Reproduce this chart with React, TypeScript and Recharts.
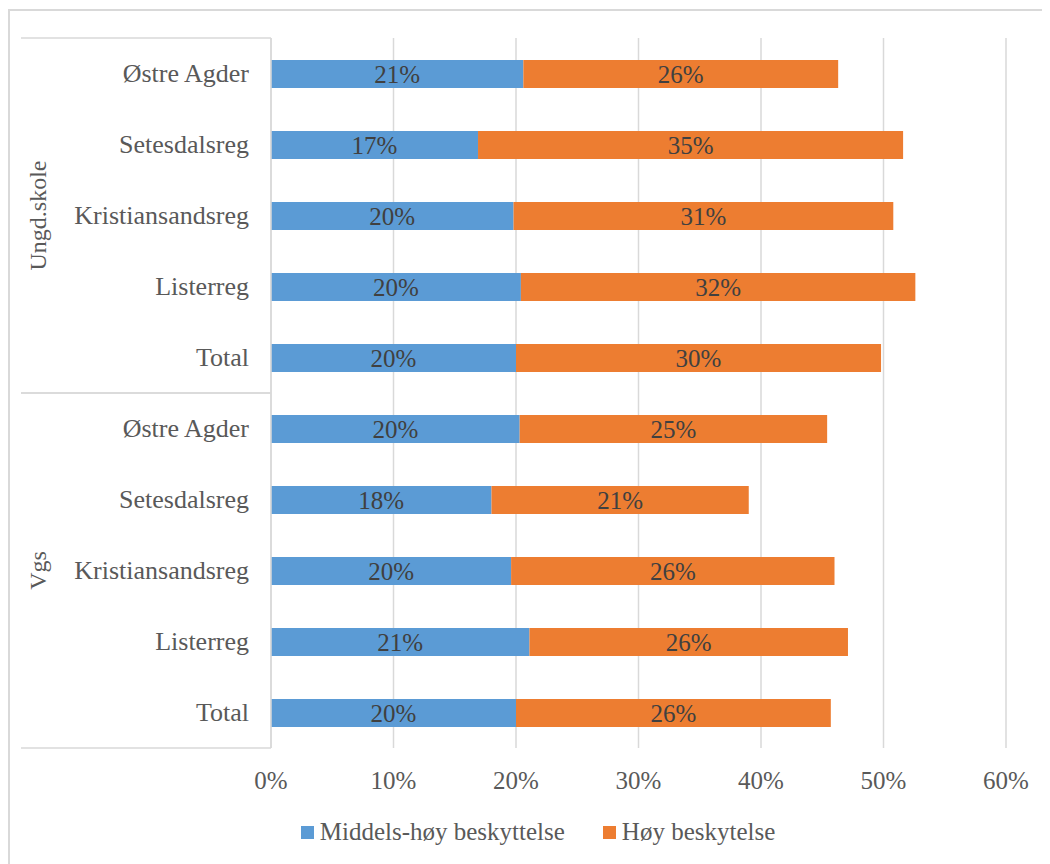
import React from 'react';
import { BarChart, Bar, XAxis, YAxis, CartesianGrid, LabelList, Legend } from 'recharts';

const groups = ['Ungd.skole', 'Vgs'];
const regions = ['Østre Agder', 'Setesdalsreg', 'Kristiansandsreg', 'Listerreg', 'Total'];
const ungdMiddels = [0.206, 0.169, 0.198, 0.204, 0.200];
const ungdHoy = [0.257, 0.347, 0.310, 0.322, 0.298];
const vgsMiddels = [0.203, 0.180, 0.196, 0.211, 0.200];
const vgsHoy = [0.251, 0.210, 0.264, 0.260, 0.257];
const xTicks = [0, 0.1, 0.2, 0.3, 0.4, 0.5, 0.6];
const seriesNames = ['Middels-høy beskyttelse', 'Høy beskytelse'];

const middelsByGroup = [ungdMiddels, vgsMiddels];
const hoyByGroup = [ungdHoy, vgsHoy];

const rows = groups.flatMap((g, gi) =>
  regions.map((r, ri) => ({
    key: `${g}|${r}`,
    group: g,
    region: r,
    middels: middelsByGroup[gi][ri],
    hoy: hoyByGroup[gi][ri],
  }))
);

const FONT = 'Liberation Serif';
const BLUE = '#5b9bd5';
const ORANGE = '#ed7d31';
const AXIS_TEXT = '#595959';
const LABEL_TEXT = '#404040';
const LINE = '#d9d9d9';

const CHART_W = 1060;
const CHART_H = 856;
const MARGIN = { top: 30, right: 62, bottom: 76, left: 0 };
const X_AXIS_H = 40;
const Y_AXIS_W = 263;
const PLOT_H = CHART_H - MARGIN.top - MARGIN.bottom - X_AXIS_H;
const ROW_H = PLOT_H / rows.length;
const PER_GROUP = regions.length;

const pct = (v: number) => `${Math.round(v * 100)}%`;

const CategoryTick = (props: any) => {
  const { x, y, index } = props;
  const row = rows[index];
  if (!row) return null;
  const pos = index % PER_GROUP;
  const lineLeft = x - 250;
  const groupX = x - 233;
  const groupCenterRow = Math.floor(PER_GROUP / 2);
  return (
    <g>
      <text
        x={x - 22}
        y={y}
        textAnchor="end"
        dominantBaseline="central"
        fill={AXIS_TEXT}
        fontSize={26}
        fontFamily={FONT}
      >
        {row.region}
      </text>
      {pos === 0 && (
        <line x1={lineLeft} x2={x} y1={y - ROW_H / 2} y2={y - ROW_H / 2} stroke={LINE} strokeWidth={1.5} />
      )}
      {pos === PER_GROUP - 1 && (
        <line x1={lineLeft} x2={x} y1={y + ROW_H / 2} y2={y + ROW_H / 2} stroke={LINE} strokeWidth={1.5} />
      )}
      {pos === groupCenterRow && (
        <text
          x={groupX}
          y={y}
          transform={`rotate(-90 ${groupX} ${y})`}
          textAnchor="middle"
          dominantBaseline="central"
          fill={AXIS_TEXT}
          fontSize={24}
          fontFamily={FONT}
        >
          {row.group}
        </text>
      )}
    </g>
  );
};

const LegendContent = (props: any) => {
  const payload = [...(props.payload || [])].sort(
    (a: any, b: any) => seriesNames.indexOf(a.value) - seriesNames.indexOf(b.value)
  );
  return (
    <div
      style={{
        display: 'flex',
        justifyContent: 'center',
        alignItems: 'center',
        height: 28,
        gap: 38,
        fontFamily: FONT,
        fontSize: 25,
        color: AXIS_TEXT,
      }}
    >
      {payload.map((p: any) => (
        <div key={p.value} style={{ display: 'flex', alignItems: 'center', gap: 6 }}>
          <span style={{ display: 'inline-block', width: 13, height: 13, background: p.color }} />
          <span style={{ lineHeight: '28px' }}>{p.value}</span>
        </div>
      ))}
    </div>
  );
};

export default function App() {
  return (
    <div style={{ position: 'relative', width: 1042, height: 856, overflow: 'hidden', background: '#fff' }}>
      <div
        style={{
          position: 'absolute',
          left: 0,
          top: 1,
          width: 1200,
          height: 1000,
          borderLeft: `2px solid ${LINE}`,
          borderTop: `2px solid ${LINE}`,
          boxSizing: 'border-box',
        }}
      />
      <div style={{ position: 'absolute', left: 0, top: 0 }}>
        <BarChart
          width={CHART_W}
          height={CHART_H}
          data={rows}
          layout="vertical"
          margin={MARGIN}
          barSize={28}
        >
          <CartesianGrid horizontal={false} stroke={LINE} strokeWidth={1.5} />
          <XAxis
            type="number"
            domain={[0, 0.6]}
            ticks={xTicks}
            tickFormatter={pct}
            axisLine={false}
            tickLine={false}
            tickSize={0}
            tickMargin={23}
            height={X_AXIS_H}
            interval={0}
            tick={{ fill: AXIS_TEXT, fontSize: 25, fontFamily: FONT }}
          />
          <YAxis
            type="category"
            dataKey="key"
            width={Y_AXIS_W}
            axisLine={{ stroke: LINE, strokeWidth: 1.5 }}
            tickLine={false}
            tickSize={0}
            tickMargin={0}
            interval={0}
            tick={<CategoryTick />}
          />
          <Legend
            verticalAlign="middle"
            align="center"
            layout="horizontal"
            wrapperStyle={{ top: 810, left: 0, width: CHART_W, bottom: 'auto' }}
            content={<LegendContent />}
          />
          <Bar dataKey="middels" name={seriesNames[0]} stackId="a" fill={BLUE} isAnimationActive={false}>
            <LabelList
              dataKey="middels"
              position="center"
              formatter={(v: any) => pct(Number(v))}
              fill={LABEL_TEXT}
              fontSize={25}
              fontFamily={FONT}
            />
          </Bar>
          <Bar dataKey="hoy" name={seriesNames[1]} stackId="a" fill={ORANGE} isAnimationActive={false}>
            <LabelList
              dataKey="hoy"
              position="center"
              formatter={(v: any) => pct(Number(v))}
              fill={LABEL_TEXT}
              fontSize={25}
              fontFamily={FONT}
            />
          </Bar>
        </BarChart>
      </div>
    </div>
  );
}
